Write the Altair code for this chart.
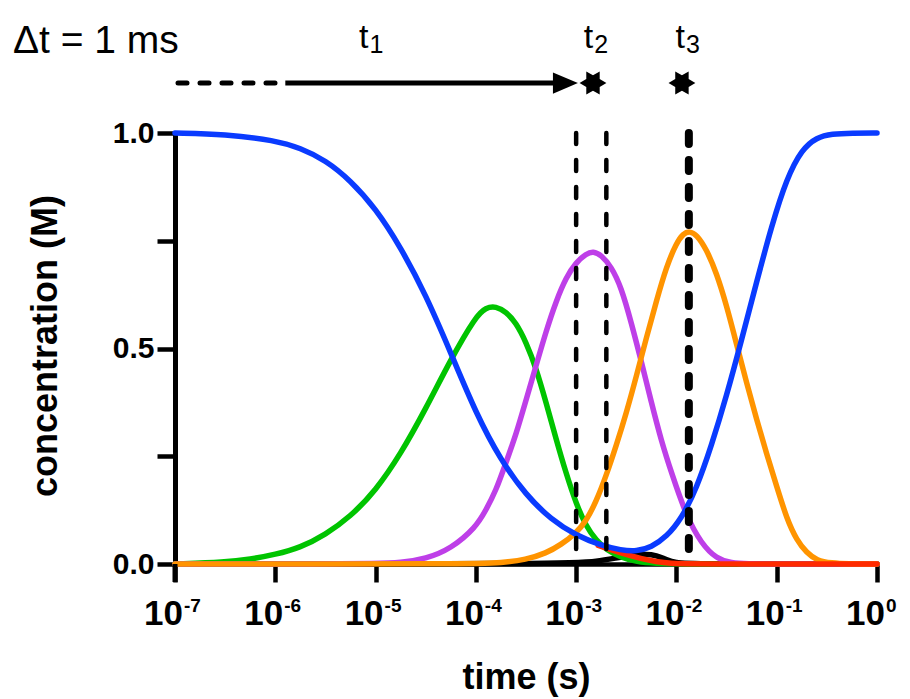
import altair as alt
import pandas as pd

# ---- data (time given as log10 exponents, s) ----
blue_exp = [-7, -6.5, -6.0, -5.75, -5.5, -5.25, -5.0, -4.75, -4.5, -4.25, -4.0, -3.75, -3.5,
            -3.25, -3.0, -2.75, -2.55, -2.4, -2.25, -2.1, -1.95, -1.8, -1.65, -1.5, -1.35,
            -1.2, -1.05, -0.9, -0.75, -0.6, -0.45, -0.25, 0]
blue_val = [1.0, 0.997, 0.983, 0.965, 0.937, 0.89, 0.825, 0.735, 0.625, 0.49, 0.35, 0.24, 0.16,
            0.103, 0.066, 0.043, 0.032, 0.029, 0.039, 0.063, 0.105, 0.175, 0.275, 0.39, 0.52,
            0.655, 0.785, 0.895, 0.962, 0.99, 0.998, 1.0, 1.0]

green_exp = [-7, -6.5, -6.25, -6.0, -5.75, -5.5, -5.25, -5.0, -4.75, -4.5, -4.25, -4.0, -3.9,
             -3.8, -3.7, -3.6, -3.5, -3.4, -3.3, -3.2, -3.1, -3.0, -2.9, -2.8, -2.7, -2.55,
             -2.4, -2.2, -2.0, 0]
green_val = [0, 0.004, 0.011, 0.022, 0.038, 0.068, 0.11, 0.17, 0.255, 0.36, 0.475, 0.575, 0.595,
             0.598, 0.585, 0.56, 0.515, 0.455, 0.375, 0.29, 0.21, 0.14, 0.087, 0.055, 0.033,
             0.015, 0.005, 0.001, 0, 0]

purple_exp = [-7, -5.5, -5.0, -4.75, -4.5, -4.25, -4.0, -3.9, -3.8, -3.7, -3.6, -3.5, -3.4,
              -3.3, -3.2, -3.1, -3.0, -2.9, -2.83, -2.75, -2.65, -2.55, -2.45, -2.35, -2.25,
              -2.15, -2.05, -1.9, -1.75, -1.6, -1.45, -1.3, -1.0, 0]
purple_val = [0, 0, 0.001, 0.003, 0.012, 0.035, 0.085, 0.125, 0.17, 0.235, 0.30, 0.38, 0.46,
              0.54, 0.61, 0.665, 0.70, 0.72, 0.726, 0.717, 0.69, 0.642, 0.56, 0.47, 0.375,
              0.285, 0.212, 0.11, 0.047, 0.012, 0.002, 0, 0, 0]

orange_exp = [-7, -4.0, -3.75, -3.5, -3.3, -3.15, -3.0, -2.9, -2.8, -2.7, -2.6, -2.5, -2.4,
              -2.3, -2.2, -2.1, -2.0, -1.93, -1.87, -1.8, -1.7, -1.6, -1.5, -1.4, -1.3, -1.2,
              -1.1, -1.0, -0.9, -0.8, -0.7, -0.6, -0.45, -0.3, 0]
orange_val = [0, 0, 0.003, 0.01, 0.025, 0.045, 0.072, 0.1, 0.145, 0.205, 0.275, 0.35, 0.435,
              0.525, 0.61, 0.69, 0.745, 0.767, 0.772, 0.765, 0.73, 0.675, 0.6, 0.51, 0.42, 0.335,
              0.255, 0.18, 0.105, 0.055, 0.026, 0.008, 0.002, 0, 0]

red_exp = [-2.78, -2.65, -2.5, -2.36, -2.2, -2.05, -1.9, 0]
red_val = [0.043, 0.033, 0.022, 0.013, 0.005, 0.001, 0, 0]

black_exp = [-7, -3.0, -2.8, -2.6, -2.45, -2.3, -2.2, -2.1, -2.0, -1.9, 0]
black_val = [0, 0, 0.006, 0.014, 0.02, 0.023, 0.02, 0.01, 0.003, 0, 0]

# vertical dashed markers (s) and their widths
marker_times = [1e-3, 2e-3, 1.33e-2]
marker_widths = [4.5, 4.5, 8]

# x tick labels
tick_exp = [-7, -6, -5, -4, -3, -2, -1, 0]
tick_sup = ["-7", "-6", "-5", "-4", "-3", "-2", "-1", "0"]

# top annotation (exponents)
arrow_dash = (-6.97, -5.9)
arrow_solid = (-5.9, -3.2)
arrow_head_exp = -3.107
star_exp = [-2.832, -1.945]
tlabel_exp = [-5.07, -2.83, -1.915]
tlabel_sub = ["1", "2", "3"]

W, H = 702, 431
FONT = "Liberation Sans"

colors = {"black": "#000000", "green": "#00C400", "purple": "#BE3FE8",
          "orange": "#FF9400", "red": "#FF2A00", "blue": "#0A3BFF"}

xscale = alt.Scale(type="log", domain=[1e-7, 1], nice=False)
yscale = alt.Scale(domain=[0, 1], nice=False)

xaxis = alt.Axis(values=[10.0 ** e for e in tick_exp], labels=False, grid=False,
                 tickSize=18, tickWidth=4.5, tickColor="black", domainWidth=4.5,
                 domainColor="black", title="time (s)", titleFont=FONT, titleFontSize=36,
                 titleFontWeight="bold", titleColor="black", titleX=W / 2, titleY=124,
                 titleAlign="center", titleBaseline="alphabetic")
yaxis = alt.Axis(values=[0, 0.25, 0.5, 0.75, 1.0], grid=False,
                 labelExpr="datum.value % 0.5 == 0 ? format(datum.value, '.1f') : ''",
                 labelFont=FONT, labelFontSize=30, labelFontWeight="bold", labelColor="black",
                 labelPadding=3, tickSize=18, tickWidth=4.5, tickColor="black",
                 domainWidth=5, domainColor="black", title="concentration (M)",
                 titleFont=FONT, titleFontSize=36, titleFontWeight="bold", titleColor="black",
                 titleAngle=270, titleX=-111, titleY=H / 2 - 3, titleAlign="center",
                 titleBaseline="bottom")

X = alt.X("t:Q", scale=xscale, axis=xaxis)


def curve(exps, vals, color):
    df = pd.DataFrame({"t": [10.0 ** e for e in exps], "c": vals})
    return alt.Chart(df).mark_line(color=color, strokeWidth=5.5, interpolate="basis",
                                   strokeCap="round").encode(
        x=X, y=alt.Y("c:Q", scale=yscale, axis=yaxis))


layers = [
    curve(black_exp, black_val, colors["black"]),
    curve(green_exp, green_val, colors["green"]),
    curve(purple_exp, purple_val, colors["purple"]),
    curve(orange_exp, orange_val, colors["orange"]),
    curve(red_exp, red_val, colors["red"]),
    curve(blue_exp, blue_val, colors["blue"]),
]

# y axis extension below zero
layers.append(alt.Chart(pd.DataFrame({"a": [0]})).mark_rule(color="black", strokeWidth=5).encode(
    x=alt.value(0), y=alt.value(H), y2=alt.value(H + 18)))

# dashed markers
mk = pd.DataFrame({"t": marker_times, "w": marker_widths})
layers.append(alt.Chart(mk).mark_rule(color="black", strokeDash=[11, 16], strokeCap="round").encode(
    x=X, y=alt.datum(1, scale=yscale), y2=alt.datum(0),
    strokeWidth=alt.StrokeWidth("w:Q", scale=None)))

# x tick labels 10^n
tk = pd.DataFrame({"t": [10.0 ** e for e in tick_exp], "base": ["10"] * len(tick_exp), "sup": tick_sup})
layers.append(alt.Chart(tk).mark_text(font=FONT, fontSize=35, fontWeight="bold", align="right",
                                      baseline="alphabetic", dx=8, color="black").encode(
    x=X, y=alt.value(H + 61), text="base:N"))
layers.append(alt.Chart(tk).mark_text(font=FONT, fontSize=19, fontWeight="bold", align="left",
                                      baseline="alphabetic", dx=9, color="black").encode(
    x=X, y=alt.value(H + 48), text="sup:N"))

# top annotation: arrow
ad = pd.DataFrame({"t": [10.0 ** arrow_dash[0]], "t2": [10.0 ** arrow_dash[1]]})
layers.append(alt.Chart(ad).mark_rule(color="black", strokeWidth=5, strokeDash=[9, 13],
                                      strokeCap="round").encode(
    x=X, x2="t2:Q", y=alt.value(-50)))
asd = pd.DataFrame({"t": [10.0 ** arrow_solid[0]], "t2": [10.0 ** arrow_solid[1]]})
layers.append(alt.Chart(asd).mark_rule(color="black", strokeWidth=5).encode(
    x=X, x2="t2:Q", y=alt.value(-50)))
ah = pd.DataFrame({"t": [10.0 ** arrow_head_exp]})
layers.append(alt.Chart(ah).mark_point(shape="M-1,-0.85L1,0L-1,0.85Z", filled=True, size=625,
                                       color="black", opacity=1).encode(x=X, y=alt.value(-50)))
STAR = ("M1,0L0.5,0.289L0.5,0.866L0,0.577L-0.5,0.866L-0.5,0.289L-1,0L-0.5,-0.289"
        "L-0.5,-0.866L0,-0.577L0.5,-0.866L0.5,-0.289Z")
st = pd.DataFrame({"t": [10.0 ** e for e in star_exp]})
layers.append(alt.Chart(st).mark_point(shape=STAR, filled=True, size=720, color="black",
                                       opacity=1).encode(x=X, y=alt.value(-50)))

# t labels
tl = pd.DataFrame({"t": [10.0 ** e for e in tlabel_exp], "base": ["t"] * 3, "sub": tlabel_sub})
layers.append(alt.Chart(tl).mark_text(font=FONT, fontSize=34, align="right", baseline="alphabetic",
                                      color="black").encode(x=X, y=alt.value(-85), text="base:N"))
layers.append(alt.Chart(tl).mark_text(font=FONT, fontSize=25, align="left", baseline="alphabetic",
                                      dx=1, color="black").encode(x=X, y=alt.value(-80), text="sub:N"))

# Δt label
layers.append(alt.Chart(pd.DataFrame({"s": ["Δt = 1 ms"]})).mark_text(
    font=FONT, fontSize=39, align="left", baseline="alphabetic", color="black").encode(
    x=alt.value(-162), y=alt.value(-80), text="s:N"))

chart = alt.layer(*layers).properties(
    width=W, height=H,
    padding={"left": 175, "top": 133, "right": 33, "bottom": 135},
    autosize=alt.AutoSizeParams(type="none"),
    background="white",
).configure_view(stroke=None)

chart.save("out.html", embed_options={"renderer": "svg", "actions": False})
